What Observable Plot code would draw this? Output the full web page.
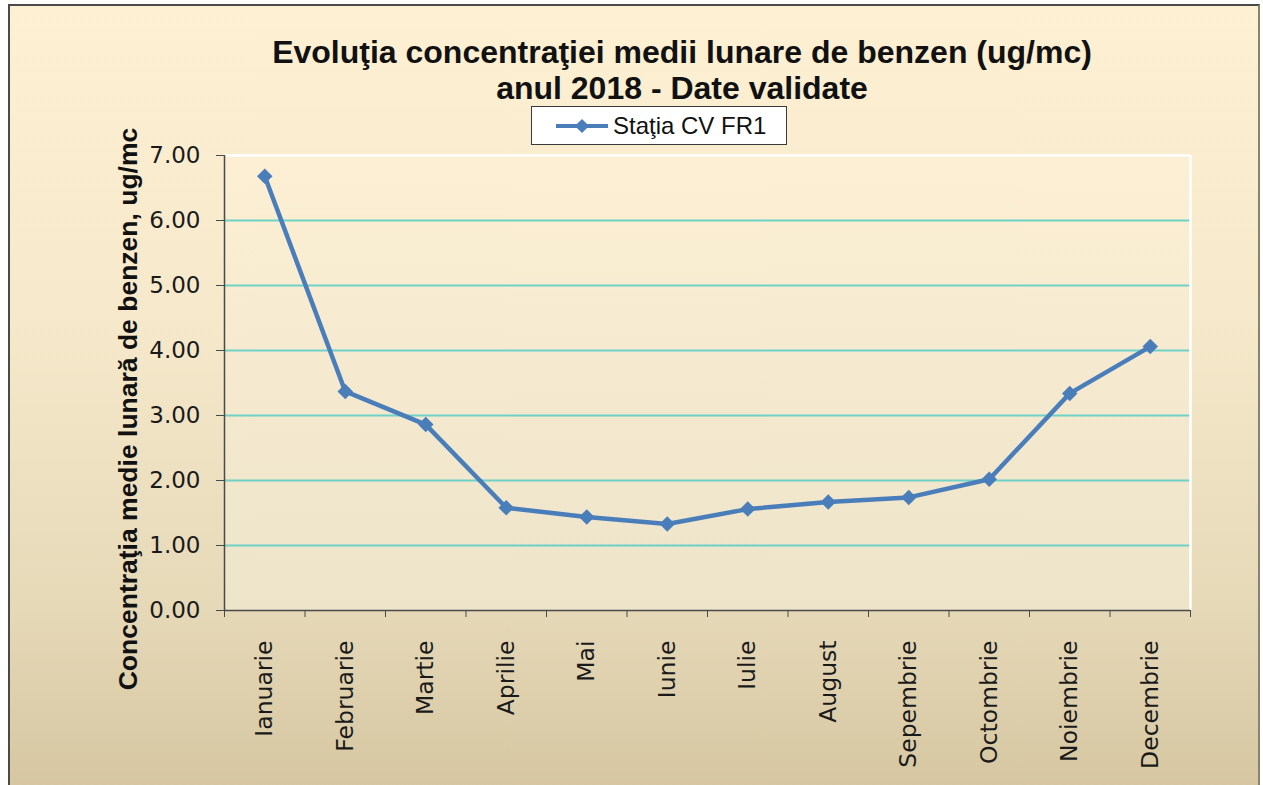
<!DOCTYPE html>
<html>
<head>
<meta charset="utf-8">
<script src="https://cdn.jsdelivr.net/npm/d3@7"></script>
<script src="https://cdn.jsdelivr.net/npm/@observablehq/plot@0.6"></script>
<style>
  html, body { margin: 0; padding: 0; background: #ffffff; }
  #wrap { position: relative; width: 1263px; height: 785px; overflow: hidden; background: #ffffff; }
  #panel { position: absolute; left: 8px; top: 4px; width: 1248px; height: 800px;
           border-left: 2px solid #4a4a4a; border-top: 2px solid #4a4a4a; border-right: 2px solid #8a8270;
           background: linear-gradient(to bottom, #fdf0d3 0%, #f6e9cb 40%, #e6d9b8 75%, #d4c59f 100%); }
  #title { position: absolute; left: 682px; top: 34px; transform: translateX(-50%);
           white-space: nowrap; text-align: center; font-family: "Liberation Sans", Arial, sans-serif;
           font-weight: bold; font-size: 32px; line-height: 36px; color: #111; }
  #legend { position: absolute; left: 531px; top: 106px; width: 256px; height: 39px; box-sizing: border-box;
            background: #ffffff; border: 1.5px solid #3a3a3a; display: flex; align-items: center; }
  #legend svg { margin-left: 22px; }
  #legend span { font-family: "Liberation Sans", Arial, sans-serif; font-size: 24px; color: #111; margin-left: 3px; }
  #chart { position: absolute; left: 0; top: 0; }
</style>
</head>
<body>
<div id="wrap">
  <div id="panel"></div>
  <div id="chart"></div>
  <div id="title"></div>
  <div id="legend"></div>
</div>
<script>
const titleLines = ["Evoluţia concentraţiei medii lunare de benzen (ug/mc)", "anul 2018 - Date validate"];
const seriesName = "Staţia CV FR1";
const yLabel = "Concentraţia medie lunară de benzen, ug/mc";
const months = ["Ianuarie", "Februarie", "Martie", "Aprilie", "Mai", "Iunie", "Iulie", "August", "Sepembrie", "Octombrie", "Noiembrie", "Decembrie"];
const values = [6.68, 3.37, 2.86, 1.58, 1.44, 1.33, 1.56, 1.67, 1.74, 2.02, 3.34, 4.06];
const yTicks = [0, 1, 2, 3, 4, 5, 6, 7];
const gridValues = [1, 2, 3, 4, 5, 6];

const lineColor = "#4a7ebb";
const data = months.map((m, i) => ({month: m, pos: i + 0.5, value: values[i]}));
const centers = months.map((m, i) => i + 0.5);
const bounds = d3.range(months.length + 1);

document.getElementById("title").innerHTML = titleLines.join("<br>");
document.getElementById("legend").innerHTML =
  `<svg width="56" height="20"><line x1="2" y1="10" x2="54" y2="10" stroke="${lineColor}" stroke-width="4"/>` +
  `<rect x="23" y="5" width="10" height="10" fill="${lineColor}" transform="rotate(45 28 10)"/></svg>` +
  `<span>${seriesName}</span>`;

const plot = Plot.plot({
  width: 1263,
  height: 785,
  marginLeft: 224,
  marginRight: 73,
  marginTop: 155,
  marginBottom: 175,
  style: {background: "transparent", overflow: "visible"},
  x: {type: "linear", domain: [0, months.length]},
  y: {domain: [0, 7]},
  marks: [
    Plot.frame({fill: "url(#plotAreaGrad)", stroke: "none"}),
    Plot.ruleY(gridValues, {stroke: "#6fd2c6", strokeWidth: 2}),
    Plot.ruleY([7], {stroke: "#ffffff", strokeWidth: 2.5}),
    Plot.ruleX([months.length], {stroke: "#ffffff", strokeWidth: 2.5}),
    Plot.ruleX([0], {stroke: "#4a4a4a", strokeWidth: 1.5}),
    Plot.ruleY([0], {stroke: "#4a4a4a", strokeWidth: 1.5}),
    Plot.axisY(yTicks, {tickFormat: d3.format(".2f"), tickSize: 8, tickPadding: 16, fontSize: 23,
      fontFamily: "DejaVu Sans, sans-serif", stroke: "#4a4a4a", fill: "#1a1a1a", label: null}),
    Plot.axisX(bounds, {tickFormat: () => "", tickSize: 7, stroke: "#4a4a4a", label: null}),
    Plot.axisX(centers, {tickFormat: d => months[Math.floor(d)], tickSize: 0, tickPadding: 30, tickRotate: -90,
      fontSize: 23.5, fontFamily: "DejaVu Sans, sans-serif", fill: "#1a1a1a", label: null}),
    Plot.text([yLabel], {text: d => d, frameAnchor: "left", textAnchor: "middle", rotate: -90, dx: -96, dy: 26,
      fontSize: 26.5, fontWeight: "bold", fontFamily: "Liberation Sans, Arial, sans-serif", fill: "#111"}),
    Plot.line(data, {x: "pos", y: "value", stroke: lineColor, strokeWidth: 4.5}),
    Plot.dot(data, {x: "pos", y: "value", symbol: "diamond2", r: 7, fill: lineColor, stroke: "none"})
  ]
});

const defs = d3.select(plot).insert("defs", ":first-child");
const g = defs.append("linearGradient").attr("id", "plotAreaGrad").attr("x1", 0).attr("y1", 0).attr("x2", 0).attr("y2", 1);
g.append("stop").attr("offset", "0%").attr("stop-color", "#fcefd4");
g.append("stop").attr("offset", "100%").attr("stop-color", "#ede4ca");

document.getElementById("chart").appendChild(plot);
</script>
</body>
</html>
